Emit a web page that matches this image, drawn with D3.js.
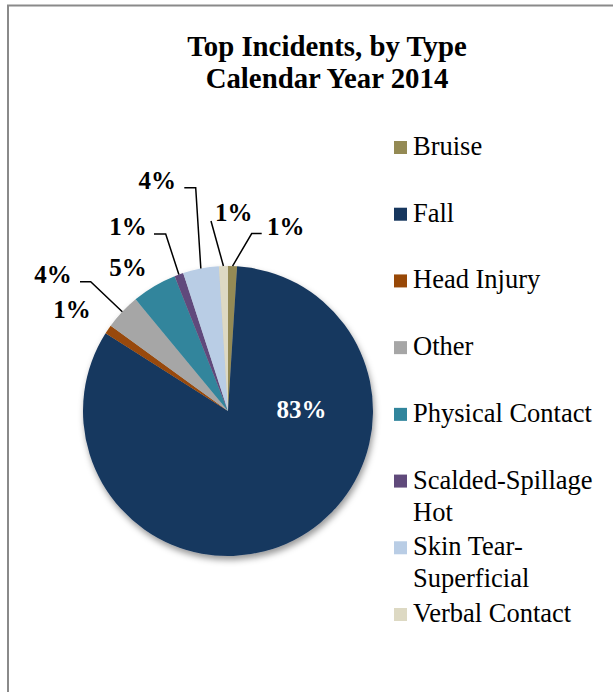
<!DOCTYPE html>
<html>
<head>
<meta charset="utf-8">
<script src="https://cdn.jsdelivr.net/npm/d3@7"></script>
<style>
  html, body { margin: 0; padding: 0; background: #ffffff; }
  svg { display: block; }
</style>
</head>
<body>
<svg id="chart" width="613" height="692"></svg>
<script>
// Incident types, in slice order (clockwise from 12 o'clock)
const categories = [
  "Bruise", "Fall", "Head Injury", "Other", "Physical Contact",
  "Scalded-Spillage Hot", "Skin Tear-Superficial", "Verbal Contact"
];
// Share of incidents, percent
const percentages = [1, 83, 1, 4, 5, 1, 4, 1];

const titleLines = ["Top Incidents, by Type", "Calendar Year 2014"];

const sliceColors = ["#948A54", "#17375E", "#984807", "#A6A6A6",
                     "#31859C", "#604A7B", "#B9CDE5", "#DDD9C3"];

const FONT = "'Liberation Serif', 'Times New Roman', Times, serif";

// Label placement relative to the pie centre; leader = elbow + end offsets
const labelLayout = {
  "Bruise":                { dx: 39,    dy: -176.5, anchor: "start",  leader: [[23.7, -177.5], [33.7, -177.5]] },
  "Fall":                  { dx: 73.5,  dy: 6.7,    anchor: "middle", inside: true },
  "Head Injury":           { dx: -137.3, dy: -92.7, anchor: "end" },
  "Other":                 { dx: -156.3, dy: -128.3, anchor: "end",  leader: [[-137.3, -129.3], [-148, -129.3]] },
  "Physical Contact":      { dx: -81.3, dy: -135,   anchor: "end" },
  "Scalded-Spillage Hot":  { dx: -81.3, dy: -176.5, anchor: "end",    leader: [[-62.3, -177], [-74, -177]] },
  "Skin Tear-Superficial": { dx: -52,   dy: -222.5, anchor: "end",    leader: [[-32.3, -223.3], [-43.7, -223.3]] },
  "Verbal Contact":        { dx: -13,   dy: -190,   anchor: "start",  leader: [[-17, -190]] }
};

const data = categories.map((c, i) => ({ category: c, value: percentages[i] }));

const svg = d3.select("#chart").style("font-family", FONT);
const W = 613, H = 692;
const cx = 228, cy = 411, radius = 145;

svg.append("rect").attr("width", W).attr("height", H).attr("fill", "#ffffff");

// chart-area frame (top and left edges)
svg.append("path")
  .attr("d", d3.line()([[8, H + 2], [8, 5.5], [W + 2, 5.5]]))
  .attr("fill", "none")
  .attr("stroke", "#8a8a8a")
  .attr("stroke-width", 2);

// soft drop shadow under the pie
const defs = svg.append("defs");
const f = defs.append("filter").attr("id", "pieShadow")
  .attr("x", "-20%").attr("y", "-20%").attr("width", "140%").attr("height", "140%");
f.append("feDropShadow")
  .attr("dx", 1.5).attr("dy", 4).attr("stdDeviation", 3)
  .attr("flood-color", "#000").attr("flood-opacity", 0.4);

// title
const title = svg.append("text")
  .attr("x", 327).attr("y", 56)
  .attr("text-anchor", "middle")
  .attr("font-weight", "bold")
  .attr("font-size", 28.8)
  .style("font-family", FONT)
  .attr("fill", "#000");
titleLines.forEach((t, i) => {
  title.append("tspan").attr("x", 327).attr("dy", i === 0 ? 0 : 32).text(t);
});

const color = d3.scaleOrdinal().domain(categories).range(sliceColors);

const pie = d3.pie().value(d => d.value).sort(null);
const arcs = pie(data);
const arc = d3.arc().innerRadius(0).outerRadius(radius);

const g = svg.append("g").attr("transform", `translate(${cx},${cy})`);

g.append("g").attr("filter", "url(#pieShadow)")
  .selectAll("path")
  .data(arcs)
  .join("path")
  .attr("d", arc)
  .attr("fill", d => color(d.data.category));

// leader lines from the slice edge to each outside label
const pctFmt = d3.format(".0%");
const edgePoint = d => {
  const a = (d.startAngle + d.endAngle) / 2;
  return [radius * Math.sin(a), -radius * Math.cos(a)];
};

g.append("g")
  .selectAll("path")
  .data(arcs.filter(d => labelLayout[d.data.category].leader))
  .join("path")
  .attr("d", d => d3.line()([edgePoint(d), ...labelLayout[d.data.category].leader]))
  .attr("fill", "none")
  .attr("stroke", "#000")
  .attr("stroke-width", 1.5);

g.append("g")
  .selectAll("text")
  .data(arcs)
  .join("text")
  .attr("x", d => labelLayout[d.data.category].dx)
  .attr("y", d => labelLayout[d.data.category].dy)
  .attr("text-anchor", d => labelLayout[d.data.category].anchor)
  .attr("font-weight", "bold")
  .attr("font-size", 25)
  .style("font-family", FONT)
  .attr("fill", d => labelLayout[d.data.category].inside ? "#ffffff" : "#000000")
  .text(d => pctFmt(d.data.value / 100));

// legend
const legendY = d3.scalePoint().domain(categories).range([155, 622]);
const legend = svg.append("g");
const maxLegendWidth = 195;

const items = legend.selectAll("g")
  .data(categories)
  .join("g")
  .attr("transform", d => `translate(394,${legendY(d)})`);

items.append("rect")
  .attr("x", 0).attr("y", -14)
  .attr("width", 13).attr("height", 13)
  .attr("fill", d => color(d));

items.each(function (d) {
  const t = d3.select(this).append("text")
    .attr("x", 19).attr("y", 0)
    .attr("font-size", 26.5)
    .style("font-family", FONT)
    .attr("fill", "#000");
  // break after spaces and hyphens when a line gets too wide
  const tokens = d.match(/[^\s-]+-?|\s+/g).filter(s => s.trim().length);
  const joinTok = (a, b) => (a.endsWith("-") ? a + b : a + " " + b);
  let lines = [], cur = "";
  const probe = t.append("tspan");
  tokens.forEach(tok => {
    const trial = cur ? joinTok(cur, tok) : tok;
    probe.text(trial);
    if (cur && probe.node().getComputedTextLength() > maxLegendWidth) {
      lines.push(cur);
      cur = tok;
    } else {
      cur = trial;
    }
  });
  lines.push(cur);
  probe.remove();
  lines.forEach((ln, i) => {
    t.append("tspan").attr("x", 19).attr("dy", i === 0 ? 0 : 32).text(ln);
  });
});
</script>
</body>
</html>
